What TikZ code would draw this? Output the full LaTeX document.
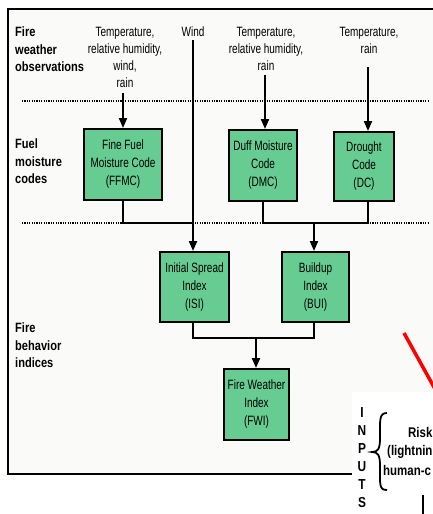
\documentclass[tikz,border=0pt]{standalone}
\usepackage{fontspec}
\setmainfont{Liberation Sans}
\newfontfamily\condfont{Liberation Sans}[FakeStretch=0.74]
\newfontfamily\condbold{Liberation Sans Bold}[FakeStretch=0.82]
\usetikzlibrary{arrows.meta}
\definecolor{boxgreen}{RGB}{102,204,146}
\definecolor{panel}{RGB}{250,251,249}

\begin{document}
\begin{tikzpicture}[x=1pt,y=-1pt,
  lbl/.style={font=\condfont\fontsize{13.5}{17}\selectfont, align=center, inner sep=0pt},
  side/.style={font=\condbold\fontsize{13.5}{17.5}\selectfont, align=left, inner sep=0pt, anchor=north west},
  idx/.style={draw=black, line width=2.4pt, fill=boxgreen, font=\condfont\fontsize{13.5}{18}\selectfont, align=center, inner sep=0pt},
  link/.style={line width=2pt, line join=miter},
  feed/.style={link, -{Triangle[length=10pt,width=8pt]}},
  sep/.style={line width=2pt, dash pattern=on 1.2pt off 1.2pt},
  letter/.style={font=\condbold\fontsize{14.5}{14.5}\selectfont, inner sep=0pt},
  risk/.style={font=\condbold\fontsize{14}{14}\selectfont, inner sep=0pt, anchor=west},
]
\useasboundingbox (0,0) rectangle (433,514);
\clip (0,0) rectangle (433,514);

% outer panel
\draw[line width=1.6pt, fill=panel] (8,9) rectangle (445,474);

% row separators
\draw[sep] (22,101) -- (428,101);
\draw[sep] (22,223) -- (428,223);

% row titles
\node[side] (obs)   at (15,27)  {Fire\\weather\\observations};
\node[side] (fuel)  at (15,139) {Fuel\\moisture\\codes};
\node[side] (behav) at (15,323) {Fire\\behavior\\indices};

% weather inputs
\node[lbl, anchor=north] (obs1) at (125,27) {Temperature,\\relative humidity,\\wind,\\rain};
\node[lbl, anchor=north] (wind) at (193,27) {Wind};
\node[lbl, anchor=north] (obs3) at (266,27) {Temperature,\\relative humidity,\\rain};
\node[lbl, anchor=north] (obs4) at (369,27) {Temperature,\\rain};

% codes and indices
\node[idx, minimum width=77.6pt, minimum height=70.6pt] (ffmc) at (123,164.5) {Fine Fuel\\Moisture Code\\(FFMC)};
\node[idx, minimum width=67.6pt, minimum height=70.6pt] (dmc)  at (263,165.5) {Duff Moisture\\Code\\(DMC)};
\node[idx, minimum width=59.6pt, minimum height=68.6pt] (dc)   at (364,166.5) {Drought\\Code\\(DC)};
\node[idx, minimum width=68.6pt, minimum height=69.6pt] (isi)  at (194.5,287) {Initial Spread\\Index\\(ISI)};
\node[idx, minimum width=66.6pt, minimum height=69.6pt] (bui)  at (315.5,287) {Buildup\\Index\\(BUI)};
\node[idx, minimum width=64.6pt, minimum height=70.6pt] (fwi)  at (256.5,404.5) {Fire Weather\\Index\\(FWI)};

% connector anchor points
\coordinate (in1) at (123,93);
\coordinate (in2) at (193,40);
\coordinate (in3) at (265,75);
\coordinate (in4) at (368,67);
\coordinate (j1) at (193,223);
\coordinate (j2) at (314,223);
\coordinate (j3) at (256,338);

% inputs into the codes
\draw[feed] (in1) -- (ffmc.north);
\draw[feed] (in2) -- (in2 |- isi.north);
\draw[feed] (in3) -- (in3 |- dmc.north);
\draw[feed] (in4) -- (in4 |- dc.north);

% codes into the indices
\draw[link] (ffmc.south) -- (ffmc.south |- j1) -- (j1);
\draw[link] (dmc.south) -- (dmc.south |- j2) -- (j2 -| in4) -- (in4 |- dc.south);
\draw[feed] (j2) -- (j2 |- bui.north);
\draw[link] (isi.south -| in2) -- (in2 |- j3) -- (j3 -| j2) -- (j2 |- bui.south);
\draw[feed] (j3) -- (j3 |- fwi.north);

% red pointer
\coordinate (p1) at (404,333);
\coordinate (p2) at (440,398);
\draw[red, line width=3.5pt] (p1) -- (p2);

% side panel with inputs
\fill[white] (352,392) rectangle (445,520);
\node[letter] (lI) at (362,413) {I};
\node[letter] (lN) at (362,431) {N};
\node[letter] (lP) at (362,449) {P};
\node[letter] (lU) at (362,467) {U};
\node[letter] (lT) at (362,485) {T};
\node[letter] (lS) at (362,503) {S};
\draw[line width=1.8pt] (387,413) .. controls (379,413) and (380,420) .. (380,438)
  .. controls (380,449) and (378,452) .. (372,452)
  .. controls (378,452) and (380,455) .. (380,466)
  .. controls (380,485) and (379,490) .. (387,490);
\node[risk] (r1) at (408,432) {Risk};
\node[risk] (r2) at (387,452) {(lightnin};
\node[risk] (r3) at (383,470) {human-c};
\coordinate (t1) at (423,495);
\coordinate (t2) at (423,520);
\draw[line width=1.8pt] (t1) -- (t2);
\end{tikzpicture}
\end{document}
